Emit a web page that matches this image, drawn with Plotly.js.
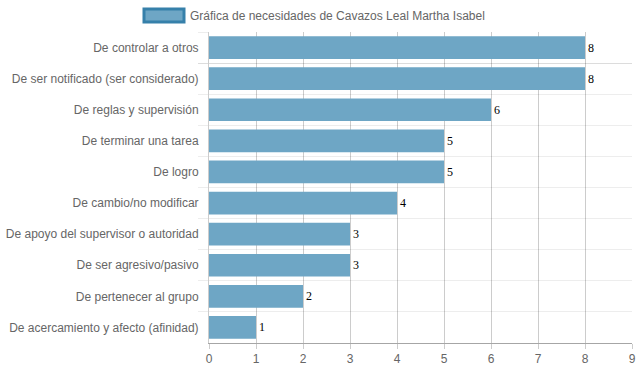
<!DOCTYPE html>
<html>
<head>
<meta charset="utf-8">
<script src="https://cdn.plot.ly/plotly-3.0.1.min.js"></script>
<style>html,body{margin:0;padding:0;background:#fff;}#chart{width:639px;height:372px;}</style>
</head>
<body>
<div id="chart"></div>
<script>
const categories = [
  "De controlar a otros",
  "De ser notificado (ser considerado)",
  "De reglas y supervisión",
  "De terminar una tarea",
  "De logro",
  "De cambio/no modificar",
  "De apoyo del supervisor o autoridad",
  "De ser agresivo/pasivo",
  "De pertenecer al grupo",
  "De acercamiento y afecto (afinidad)"
];
const values = [8, 8, 6, 5, 5, 4, 3, 3, 2, 1];
const seriesName = "Gráfica de necesidades de Cavazos Leal Martha Isabel";
const xTicks = [0, 1, 2, 3, 4, 5, 6, 7, 8, 9];

const trace = {
  type: "bar",
  orientation: "h",
  y: categories,
  x: values,
  name: seriesName,
  text: values.map(String),
  textposition: "outside",
  cliponaxis: false,
  textfont: {family: "Liberation Serif, Times New Roman, serif", size: 12, color: "#000"},
  marker: {color: "rgba(110,166,197,1)", line: {color: "rgba(110,166,197,1)", width: 0}},
  hoverinfo: "none"
};

const layout = {
  width: 639, height: 372,
  margin: {l: 209, r: 7, t: 32, b: 29, pad: 0},
  paper_bgcolor: "#fff", plot_bgcolor: "#fff",
  showlegend: false,
  bargap: 0.27,
  font: {family: "Liberation Sans, Arial, sans-serif", size: 12, color: "#666"},
  xaxis: {
    range: [0, 9],
    tickvals: xTicks,
    ticktext: xTicks.map(String),
    showgrid: true,
    gridcolor: "rgba(0,0,0,0.2)",
    gridwidth: 1,
    zeroline: false,
    showline: true,
    linecolor: "rgba(0,0,0,0.35)",
    linewidth: 1,
    ticks: "outside",
    ticklen: 5,
    tickcolor: "rgba(0,0,0,0.2)",
    tickfont: {size: 12, color: "#666"},
    fixedrange: true
  },
  yaxis: {
    type: "category",
    autorange: "reversed",
    tickson: "boundaries",
    showgrid: true,
    gridcolor: "rgba(0,0,0,0.07)",
    gridwidth: 1,
    zeroline: false,
    showline: true,
    linecolor: "rgba(0,0,0,0.2)",
    linewidth: 1,
    ticks: "outside",
    ticklen: 10,
    tickcolor: "rgba(0,0,0,0.07)",
    ticklabelstandoff: 7,
    tickfont: {size: 12, color: "#666"},
    fixedrange: true
  },
  shapes: [{
    type: "rect", xref: "paper", yref: "paper",
    xsizemode: "pixel", ysizemode: "pixel",
    xanchor: 0, yanchor: 1,
    x0: -65, x1: -25, y0: 23, y1: 10,
    fillcolor: "rgba(110,166,197,1)",
    line: {color: "rgba(54,128,170,1)", width: 3}
  }],
  annotations: [{
    xref: "paper", yref: "paper", x: -0.045, y: 1, yshift: 16, xshift: -2,
    xanchor: "left", yanchor: "middle", showarrow: false,
    text: seriesName,
    font: {size: 12, color: "#666"}
  }]
};

Plotly.newPlot("chart", [trace], layout, {displayModeBar: false, staticPlot: true});
</script>
</body>
</html>
